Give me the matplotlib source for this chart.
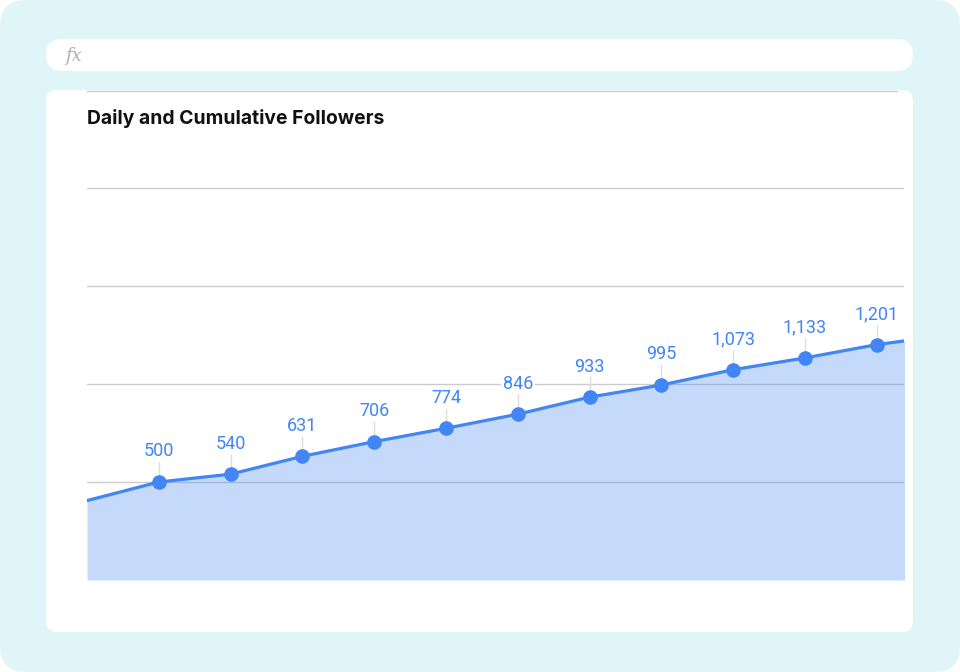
import matplotlib.pyplot as plt
from matplotlib.patches import FancyBboxPatch

# data (index 0 and 12 sit at the clipped edges of the plot)
days = list(range(13))
followers = [405, 500, 540, 631, 706, 774, 846, 933, 995, 1073, 1133, 1201, 1250]
labelled = list(range(1, 12))
grid_levels = [500, 1000, 1500, 2000]

BLUE = "#4285f4"
TEAL = "#e0f5f7"

fig = plt.figure(figsize=(9.6, 6.72), dpi=100)

# background layer in pixel coords
bg = fig.add_axes([0, 0, 1, 1])
bg.set_xlim(0, 960)
bg.set_ylim(672, 0)
bg.axis("off")
bg.add_patch(FancyBboxPatch((0, 0), 960, 672, boxstyle="round,pad=0,rounding_size=26",
                            fc=TEAL, ec="none"))
bg.add_patch(FancyBboxPatch((46, 39), 867, 32, boxstyle="round,pad=0,rounding_size=16",
                            fc="white", ec="none"))
bg.add_patch(FancyBboxPatch((46, 90), 867, 542, boxstyle="round,pad=0,rounding_size=11",
                            fc="white", ec="none"))
bg.text(65, 56, "fx", fontsize=13, color="#b0b0b0", family="DejaVu Serif",
        style="italic", va="center")
bg.text(87, 118, "Daily and Cumulative Followers", fontsize=13.9, fontweight="bold",
        family="Inter", color="#111111", va="center")
# top line of the chart frame, stops before the card's corner
bg.plot([87, 897], [90.5, 90.5], color="#cccccc", linewidth=1)

ax = fig.add_axes([87 / 960, 92 / 672, 817 / 960, 490 / 672])
ax.patch.set_alpha(0)
ax.set_xlim(0, 817 / 71.8)
ax.set_ylim(0, 2500)
for s in ax.spines.values():
    s.set_visible(False)
ax.set_xticks([])
ax.set_yticks(grid_levels)
ax.tick_params(axis="y", length=0, labelleft=False)
ax.grid(axis="y", color="#cccccc", linewidth=1)
ax.set_axisbelow(True)

ax.fill_between(days, followers, 0, color=BLUE, alpha=0.3, linewidth=0, zorder=2)
ax.plot(days, followers, color=BLUE, linewidth=2.3, zorder=3)
ax.plot([days[i] for i in labelled], [followers[i] for i in labelled], "o",
        color=BLUE, markersize=9.5, zorder=4)

px = 2500 / 490  # data units per pixel
for i in labelled:
    v = followers[i]
    ax.plot([days[i], days[i]], [v + 7 * px, v + 22 * px], color="#dddddd",
            linewidth=1, zorder=2.5)
    ax.text(days[i], v + 21.5 * px, f"{v:,}", ha="center", va="bottom", fontsize=13,
            family="Roboto", color=BLUE, zorder=5,
            bbox=dict(boxstyle="square,pad=0.1", fc="white", ec="none"))

fig.savefig("out.png", dpi=100)
